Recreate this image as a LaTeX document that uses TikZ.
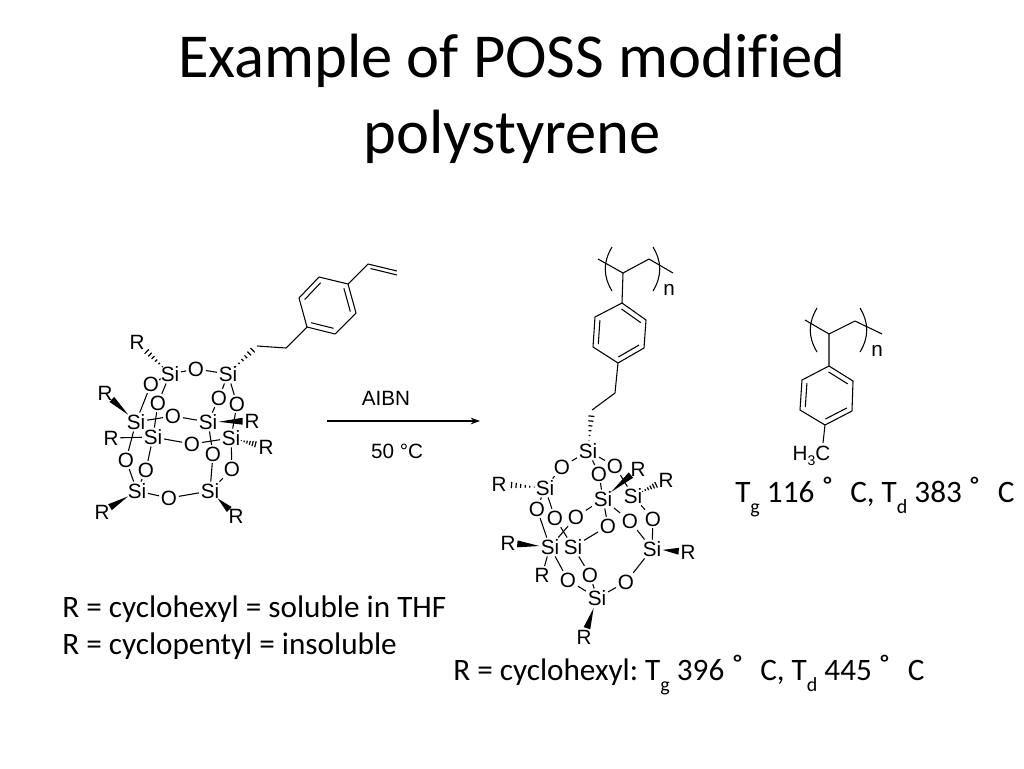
\documentclass[tikz,border=0pt]{standalone}
\usepackage{fontspec}
\setmainfont{Carlito}[Ligatures=NoCommon]
\newfontfamily\chemfont{Liberation Sans}
\usetikzlibrary{calc,arrows.meta}
\tikzset{
  atom/.style={font=\chemfont\fontsize{15.5}{17}\selectfont,inner sep=1.2pt,text=black},
  bond/.style={line width=0.8pt,black},
  label/.style={font=\frenchspacing\fontsize{23.4}{28}\selectfont,anchor=west,inner sep=0pt,text=black},
  titletext/.style={font=\fontsize{46.9}{55}\selectfont,align=center,inner sep=0pt,text=black}
}
\newcommand{\wdg}[2]{%
  \path ($(#1)!8pt!(#2)$) coordinate (wS) ($(#2)!7pt!(#1)$) coordinate (wE);
  \fill[black] (wS) -- ($(wE)!2.6pt!90:(wS)$) -- ($(wE)!2.6pt!-90:(wS)$) -- cycle;}
\newcommand{\hsh}[3]{%
  \path ($(#1)!8pt!(#2)$) coordinate (wS) ($(#2)!#3!(#1)$) coordinate (wE);
  \foreach \i in {0,...,6}{%
    \pgfmathsetmacro{\tt}{\i/6}\pgfmathsetmacro{\ww}{0.3+\i/6*2.4}%
    \draw[line width=0.9pt,black] ($(wS)!\tt!(wE)!\ww pt!90:(wE)$) -- ($(wS)!\tt!(wE)!\ww pt!-90:(wE)$);}}
\newcommand{\dbl}[3]{\draw[bond] ($(#1)!0.2!(#3)$) -- ($(#2)!0.2!(#3)$);}
\newcommand{\hsub}[1]{\raisebox{-0.33em}{\fontsize{15}{17}\selectfont #1}}
\newcommand{\degs}{\hspace{6pt}\makebox[8pt]{\raisebox{-0.1em}{\fontsize{30}{30}\selectfont ˚}}\hspace{13pt}}
\begin{document}
\begin{tikzpicture}[x=0.75pt,y=-0.75pt]
\useasboundingbox (0,0) rectangle (1024,768);
\fill[white] (0,0) rectangle (1024,768);
\node[titletext] (title) at (512,99) {Example of POSS modified\\[2pt]polystyrene};

% --- left monomer cage
\node[atom] (a1) at (170,374) {Si};
\node[atom] (a2) at (196,369) {O};
\node[atom] (a3) at (228,374) {Si};
\node[atom] (a4) at (151,384) {O};
\node[atom] (a5) at (158,403) {O};
\node[atom] (a6) at (219,398) {O};
\node[atom] (a7) at (237,404) {O};
\node[atom] (a8) at (136,422) {Si};
\node[atom] (a9) at (173,416) {O};
\node[atom] (a10) at (208,422) {Si};
\node[atom] (a11) at (153,437) {Si};
\node[atom] (a12) at (192,444) {O};
\node[atom] (a13) at (231,438) {Si};
\node[atom] (a14) at (213,454) {O};
\node[atom] (a15) at (232,469) {O};
\node[atom] (a16) at (126,460) {O};
\node[atom] (a17) at (146,470) {O};
\node[atom] (a18) at (137,491) {Si};
\node[atom] (a19) at (169,498) {O};
\node[atom] (a20) at (210,491) {Si};
\node[atom] (r1) at (137,342) {R};
\node[atom] (r2) at (105,393) {R};
\node[atom] (r3) at (252,421) {R};
\node[atom] (r4) at (111,438) {R};
\node[atom] (r5) at (266,447) {R};
\node[atom] (r6) at (102,512) {R};
\node[atom] (r7) at (236,516) {R};
\foreach \p/\q in {a1/a2,a2/a3,a1/a4,a1/a5,a3/a6,a3/a7,a4/a8,a5/a11,a6/a10,a7/a13,
  a8/a9,a9/a10,a11/a12,a12/a13,a10/a14,a13/a15,a14/a20,a15/a20,a8/a16,a16/a18,
  a11/a17,a17/a18,a18/a19,a19/a20,r4/a11}
  \draw[bond] (\p) -- (\q);
\coordinate (c1) at (257,346);
\coordinate (c2) at (286,348);
\coordinate (b1) at (307,327);
\coordinate (b2) at (335,334);
\coordinate (b3) at (356,313);
\coordinate (b4) at (348,284);
\coordinate (b5) at (319,277);
\coordinate (b6) at (299,298);
\coordinate (bc) at (327.5,305.5);
\coordinate (v1) at (368,264);
\coordinate (v2) at (397,271);
\coordinate (v3) at (370.5,268.5);
\coordinate (v4) at (397,275);
\draw[bond,line join=round] (c1) -- (c2) -- (b1);
\draw[bond,line join=round] (b1) -- (b2) -- (b3) -- (b4) -- (b5) -- (b6) -- cycle;
\draw[bond] (b4) -- (v1) -- (v2) (v3) -- (v4);
\dbl{b1}{b2}{bc}\dbl{b3}{b4}{bc}\dbl{b5}{b6}{bc}
\hsh{a1}{r1}{7pt}\hsh{a3}{c1}{1pt}\hsh{a13}{r5}{6pt}
\wdg{a8}{r2}\wdg{a10}{r3}\wdg{a18}{r6}\wdg{a20}{r7}

% --- arrow
\coordinate (ar1) at (327,421);
\coordinate (ar2) at (480,421);
\draw[line width=0.8pt,black,-{Stealth[length=7pt,width=5pt]}] (ar1) -- (ar2);
\node[atom] (aibn) at (386,398) {AIBN};
\node[atom] (temp) at (397,451) {50 °C};

% --- right polymer cage
\node[atom] (s1) at (588,451) {Si};
\node[atom] (s2) at (562,467) {O};
\node[atom] (s3) at (615,466) {O};
\node[atom] (s4) at (599,474) {O};
\node[atom] (s5) at (545,488) {Si};
\node[atom] (s6) at (603,499) {Si};
\node[atom] (s7) at (633,496) {Si};
\node[atom] (s8) at (537,509) {O};
\node[atom] (s9) at (555,518) {O};
\node[atom] (s10) at (576,517) {O};
\node[atom] (s11) at (608,526) {O};
\node[atom] (s12) at (630,521) {O};
\node[atom] (s13) at (653,519) {O};
\node[atom] (s14) at (550,547) {Si};
\node[atom] (s15) at (573,547) {Si};
\node[atom] (s16) at (652,549) {Si};
\node[atom] (s17) at (568,580) {O};
\node[atom] (s18) at (590,575) {O};
\node[atom] (s19) at (626,582) {O};
\node[atom] (s20) at (597,598) {Si};
\node[atom] (q1) at (638,469) {R};
\node[atom] (q2) at (666,480) {R};
\node[atom] (q3) at (499,484) {R};
\node[atom] (q4) at (508,543) {R};
\node[atom] (q5) at (688,552) {R};
\node[atom] (q6) at (542,575) {R};
\node[atom] (q7) at (584,637) {R};
\foreach \p/\q in {s1/s2,s2/s5,s1/s3,s3/s7,s1/s4,s4/s6,s5/s8,s8/s14,s5/s9,s9/s15,
  s6/s10,s10/s14,s6/s11,s11/s15,s6/s12,s12/s16,s7/s13,s13/s16,s14/s17,s17/s20,
  s15/s18,s18/s20,s16/s19,s19/s20,q6/s14}
  \draw[bond] (\p) -- (\q);
\coordinate (d1) at (592,410);
\coordinate (d2) at (615,393);
\coordinate (e1) at (618,363);
\coordinate (e2) at (644,348);
\coordinate (e3) at (646,320);
\coordinate (e4) at (622,303);
\coordinate (e5) at (595,317);
\coordinate (e6) at (593,347);
\coordinate (ec) at (619.5,333);
\coordinate (f1) at (623,273);
\coordinate (f2) at (649,259);
\coordinate (f3) at (673,273);
\coordinate (f4) at (598,259);
\draw[bond,line join=round] (d1) -- (d2) -- (e1) -- (e2) -- (e3) -- (e4) -- (e5) -- (e6) -- (e1);
\draw[bond,line join=round] (e4) -- (f1) -- (f2) -- (f3) (f1) -- (f4);
\dbl{e1}{e2}{ec}\dbl{e3}{e4}{ec}\dbl{e5}{e6}{ec}
\coordinate (pa1) at (612,247);
\coordinate (pa2) at (612,291);
\coordinate (pb1) at (653,247);
\coordinate (pb2) at (653,291);
\draw[bond] (pa1) .. controls (603,262) and (603,276) .. (pa2);
\draw[bond] (pb1) .. controls (662,262) and (662,276) .. (pb2);
\node[atom] (n1) at (669,290) {n};
\hsh{s1}{d1}{1pt}\hsh{s5}{q3}{6pt}\hsh{s7}{q2}{6pt}
\wdg{s6}{q1}\wdg{s14}{q4}\wdg{s16}{q5}\wdg{s20}{q7}

% --- polystyrene reference
\coordinate (g1) at (829,366);
\coordinate (g2) at (853,381);
\coordinate (g3) at (852,411);
\coordinate (g4) at (825,425);
\coordinate (g5) at (800,410);
\coordinate (g6) at (802,380);
\coordinate (gc) at (826.5,395.5);
\coordinate (h1) at (829,334);
\coordinate (h2) at (855,321);
\coordinate (h3) at (882,334);
\coordinate (h4) at (805,320);
\draw[bond,line join=round] (g1) -- (g2) -- (g3) -- (g4) -- (g5) -- (g6) -- cycle;
\draw[bond,line join=round] (g1) -- (h1) -- (h2) -- (h3) (h1) -- (h4);
\dbl{g1}{g2}{gc}\dbl{g3}{g4}{gc}\dbl{g5}{g6}{gc}
\coordinate (pc1) at (817,308);
\coordinate (pc2) at (817,352);
\coordinate (pd1) at (860,308);
\coordinate (pd2) at (860,352);
\draw[bond] (pc1) .. controls (808,323) and (808,337) .. (pc2);
\draw[bond] (pd1) .. controls (869,323) and (869,337) .. (pd2);
\node[atom] (n2) at (877,351) {n};
\node[atom] (me) at (811.5,456) {H\raisebox{-0.25em}{\fontsize{10.5}{12}\selectfont 3}C};
\coordinate (mt) at (823,443);
\draw[bond] (g4) -- (mt);

% --- captions
\node[label] (cap1) at (62,609) {R = cyclohexyl = soluble in THF};
\node[label] (cap2) at (62,646) {R = cyclopentyl = insoluble};
\node[label] (cap3) at (735,497) {T\hsub{g} 116\degs C, T\hsub{d} 383\degs C};
\node[label] (cap4) at (453,675) {R = cyclohexyl: T\hsub{g} 396\degs C, T\hsub{d} 445\degs C};
\end{tikzpicture}
\end{document}
